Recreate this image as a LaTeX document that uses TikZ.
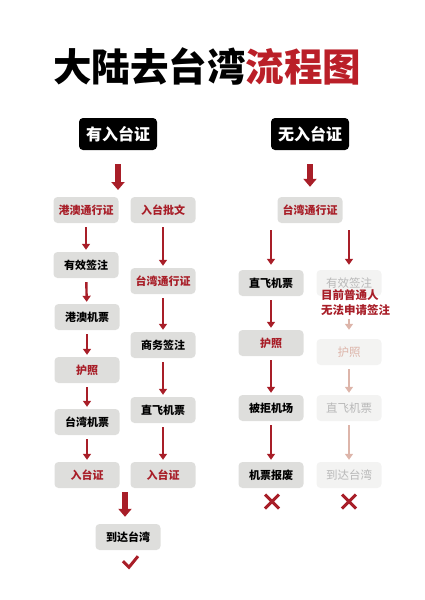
\documentclass[tikz,border=0pt]{standalone}
\usepackage{fontspec}
\newfontfamily\cjk{Noto Sans CJK SC}
\usetikzlibrary{arrows.meta,calc,positioning,shapes.misc}
\definecolor{darkred}{HTML}{A81E28}
\definecolor{titlered}{HTML}{BA1F28}
\definecolor{boxgray}{HTML}{DEDEDC}
\definecolor{fadegray}{HTML}{F3F3F2}
\definecolor{fadetext}{HTML}{B8B8B8}
\definecolor{fadered}{HTML}{DDB5AA}
\tikzset{
  stepbox/.style={fill=boxgray, rounded corners=4pt, minimum width=65pt, minimum height=26pt, inner sep=0pt, font=\cjk\bfseries\fontsize{11}{13}\selectfont},
  redbox/.style={stepbox, text=darkred},
  fadebox/.style={stepbox, fill=fadegray, text=fadetext, font=\cjk\fontsize{11.5}{13}\selectfont},
  headbox/.style={fill=black, text=white, rounded corners=4pt, minimum width=78pt, minimum height=32pt, inner sep=0pt, font=\cjk\bfseries\fontsize{16}{18}\selectfont},
  flow/.style={darkred, line width=2.4pt, -{Triangle[width=8pt,length=6pt]}, shorten <=4pt, shorten >=2pt},
  fadeflow/.style={flow, fadered},
  bigflow/.style={darkred, line width=5.5pt, -{Triangle[width=13pt,length=8pt]}},
  failmark/.style={cross out, draw=darkred, line width=3pt, minimum size=11pt, inner sep=0pt},
}
\begin{document}
\begin{tikzpicture}[x=1pt, y=-1pt]
  \useasboundingbox (0,0) rectangle (424,600);
  % Title
  \node[font=\cjk\bfseries\fontsize{38.5}{40}\selectfont] (title) at (207,66) {大陆去台湾{\color{titlered}流程图}};
  % The two cases
  \node[headbox] (withpermit) at (118,134) {有入台证};
  \node[headbox] (nopermit) at (310,134) {无入台证};
  \coordinate (split) at (118,190);
  \draw[bigflow, shorten <=14pt] (withpermit.south) -- (split);

  % With permit: via Hong Kong / Macau
  \node[redbox] (hkpass) at (86,210) {港澳通行证};
  \node[stepbox] (hkvisa) at (86,265) {有效签注};
  \node[stepbox] (hkticket) at (87,317) {港澳机票};
  \node[redbox] (hkpassport) at (87,370) {护照};
  \node[stepbox] (twticket) at (87,422) {台湾机票};
  \node[redbox] (hkentry) at (87,475) {入台证};
  \draw[flow] (hkpass) -- (hkvisa);
  \draw[flow] (hkvisa) -- (hkticket);
  \draw[flow] (hkticket) -- (hkpassport);
  \draw[flow] (hkpassport) -- (twticket);
  \draw[flow] (twticket) -- (hkentry);

  % With permit: direct flight
  \node[redbox] (approval) at (163,210) {入台批文};
  \node[redbox] (twpass) at (163,281) {台湾通行证};
  \node[stepbox] (bizvisa) at (163,345) {商务签注};
  \node[stepbox] (directticket) at (163,410) {直飞机票};
  \node[redbox] (directentry) at (163,475) {入台证};
  \draw[flow] (approval) -- (twpass);
  \draw[flow] (twpass) -- (bizvisa);
  \draw[flow] (bizvisa) -- (directticket);
  \draw[flow] (directticket) -- (directentry);

  % Arrival
  \node[stepbox] (arrive) at (128,537) {到达台湾};
  \coordinate (join) at (125,492);
  \draw[bigflow, shorten >=7pt] (join) -- (join |- arrive.north);
  \coordinate (ok) at (arrive.south);
  \draw[darkred, line width=3pt] ($(ok)+(-5,11)$) -- ($(ok)+(1,17)$) -- ($(ok)+(10,6)$);

  % Without permit
  \node[redbox] (nopass) at (310,210) {台湾通行证};
  \draw[bigflow, shorten <=14pt, shorten >=10pt] (nopermit) -- (nopass);

  % Direct flight without visa
  \node[stepbox] (noticket) at (271,283) {直飞机票};
  \node[redbox] (nopassport) at (271,343) {护照};
  \node[stepbox] (refused) at (271,408) {被拒机场};
  \node[stepbox] (wasted) at (271,475) {机票报废};
  \draw[flow, shorten <=7pt, shorten >=5pt] (nopass.south -| noticket.north) -- (noticket.north);
  \draw[flow] (noticket) -- (nopassport);
  \draw[flow] (nopassport) -- (refused);
  \draw[flow] (refused) -- (wasted);
  \node[failmark] (fail1) at (272,501.5) {};

  % Visa route that is closed
  \node[fadebox] (fadevisa) at (349,283) {有效签注};
  \node[fadebox, text=fadered] (fadepassport) at (349,352) {护照};
  \node[fadebox] (fadeticket) at (349,408) {直飞机票};
  \node[fadebox] (fadearrive) at (349,475) {到达台湾};
  \draw[flow, shorten <=7pt, shorten >=5pt] (nopass.south -| fadevisa.north) -- (fadevisa.north);
  \draw[fadeflow, shorten <=23pt, shorten >=9pt] (fadevisa) -- (fadepassport);
  \draw[fadeflow] (fadepassport) -- (fadeticket);
  \draw[fadeflow] (fadeticket) -- (fadearrive);
  \node[anchor=west, align=left, inner sep=0pt, text=darkred, font=\cjk\bfseries\fontsize{11.5}{14.5}\selectfont] (note) at (321,302.5) {目前普通人\\无法申请签注};
  \node[failmark] (fail2) at (349,501.5) {};
\end{tikzpicture}
\end{document}
